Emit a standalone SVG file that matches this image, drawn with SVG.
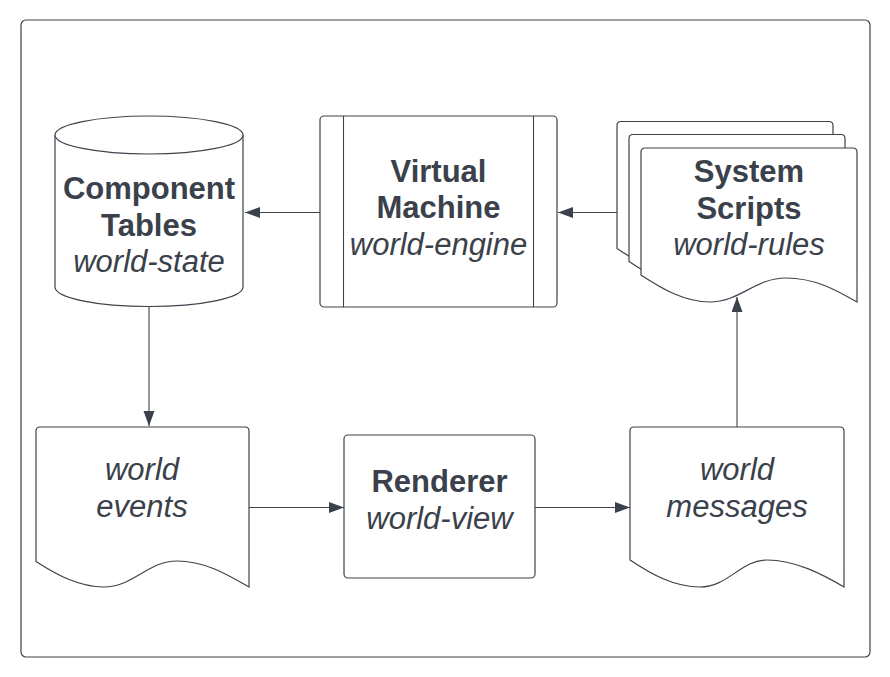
<svg xmlns="http://www.w3.org/2000/svg" width="890" height="677" viewBox="0 0 890 677">
<style>
.shape{fill:#ffffff;stroke:#3d434c;stroke-width:1.2}
.conn{fill:none;stroke:#3d434c;stroke-width:1.1}
.t{font-family:"Liberation Sans",Arial,sans-serif;font-size:31px;fill:#3a414a;text-anchor:middle}
.b{font-weight:bold}
.i{font-style:italic}
</style>
<defs>
<marker id="arr" markerUnits="userSpaceOnUse" markerWidth="16" markerHeight="12" refX="15" refY="5.5" orient="auto">
<path d="M0,0 L15,5.5 L0,11 Z" fill="#3a414a"/>
</marker>
<path id="page" d="M0,127 C21,141 44,154 69,154 C99,154 114,130 145,130 C174,130 195,142 216,154 V4 Q216,0 212,0 H4 Q0,0 0,4 Z"/>
</defs>
<rect x="0" y="0" width="890" height="677" fill="#ffffff"/>
<rect id="frame" x="21" y="20" width="849" height="637" rx="5" fill="#ffffff" stroke="#3d434c" stroke-width="1.2"/>
<g id="connectors">
<line class="conn" x1="320" y1="212.5" x2="245" y2="212.5" marker-end="url(#arr)"/>
<line class="conn" x1="617" y1="212.5" x2="558" y2="212.5" marker-end="url(#arr)"/>
<line class="conn" x1="149" y1="307" x2="149" y2="426" marker-end="url(#arr)"/>
<line class="conn" x1="249" y1="507.5" x2="344" y2="507.5" marker-end="url(#arr)"/>
<line class="conn" x1="535" y1="507.5" x2="630" y2="507.5" marker-end="url(#arr)"/>
<line class="conn" x1="737" y1="427" x2="737" y2="297" marker-end="url(#arr)"/>
</g>
<g id="component-tables">
<path class="shape" d="M55,135 V287 A94,19.5 0 0 0 243,287 V135"/>
<ellipse class="shape" cx="149" cy="135" rx="94" ry="19"/>
<text class="t b" x="149" y="199">Component</text>
<text class="t b" x="149" y="235.5">Tables</text>
<text class="t i" x="149" y="272">world-state</text>
</g>
<g id="virtual-machine">
<rect class="shape" x="320" y="116" width="237" height="191" rx="4"/>
<line class="conn" x1="343.5" y1="116" x2="343.5" y2="307"/>
<line class="conn" x1="533.5" y1="116" x2="533.5" y2="307"/>
<text class="t b" x="438.5" y="181.5">Virtual</text>
<text class="t b" x="438.5" y="218">Machine</text>
<text class="t i" x="438.5" y="254.5">world-engine</text>
</g>
<g id="system-scripts">
<use href="#page" class="shape" transform="translate(617,121.5)"/>
<use href="#page" class="shape" transform="translate(629,134.5)"/>
<use href="#page" class="shape" transform="translate(641,148)"/>
<text class="t b" x="749" y="181.5">System</text>
<text class="t b" x="749" y="218.5">Scripts</text>
<text class="t i" x="749" y="255">world-rules</text>
</g>
<g id="world-events">
<path class="shape" d="M36,561.5 C57,575 79,587 104,587 C133,587 148,561 177,561 C205,561 228,575 249,587 V431 Q249,427 245,427 H40 Q36,427 36,431 Z"/>
<text class="t i" x="142" y="480">world</text>
<text class="t i" x="142" y="516.5">events</text>
</g>
<g id="renderer">
<rect class="shape" x="344" y="435" width="191" height="143" rx="4"/>
<text class="t b" x="439.5" y="492">Renderer</text>
<text class="t i" x="439.5" y="529">world-view</text>
</g>
<g id="world-messages">
<path class="shape" d="M630,560 C651,574 674,587 700,587 C728,587 741,560 767,560 C795,560 822,574 844,587 V431 Q844,427 840,427 H634 Q630,427 630,431 Z"/>
<text class="t i" x="737" y="480">world</text>
<text class="t i" x="737" y="516.5">messages</text>
</g>
</svg>
